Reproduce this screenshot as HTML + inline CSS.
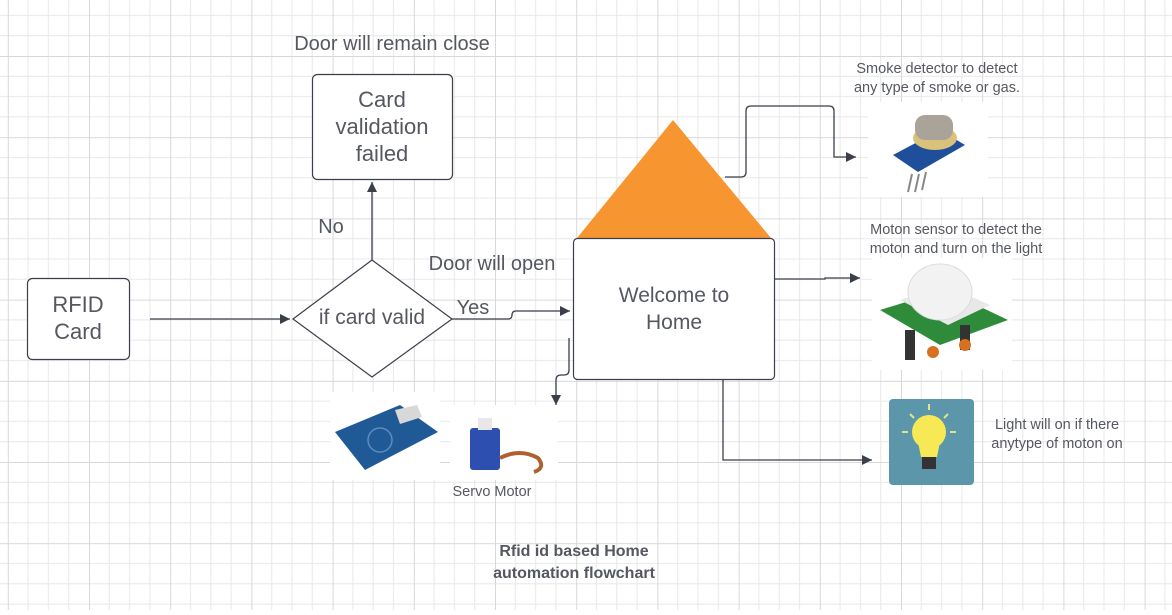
<!DOCTYPE html>
<html><head><meta charset="utf-8"><style>
html,body{margin:0;padding:0;background:#fff}
svg text{font-family:"Liberation Sans",sans-serif;fill:#555860}
</style></head><body>
<svg width="1172" height="610" viewBox="0 0 1172 610" xmlns="http://www.w3.org/2000/svg">
<defs>
<pattern id="g" x="7.8" y="-25.2" width="81.2" height="81.2" patternUnits="userSpaceOnUse">
<path d="M20.3 0V81.2M40.6 0V81.2M60.9 0V81.2M0 20.3H81.2M0 40.6H81.2M0 60.9H81.2" stroke="#e8e8e8" stroke-width="1" fill="none"/>
<path d="M0.5 0V81.2M0 0.5H81.2" stroke="#d8d8da" stroke-width="1" fill="none"/>
</pattern>
<marker id="ar2" viewBox="0 0 10 10" refX="10" refY="5" markerWidth="14" markerHeight="10" orient="auto" markerUnits="userSpaceOnUse"><path d="M0 0L10 5L0 10z" fill="#3a3f4a"/></marker>
</defs>
<rect width="1172" height="610" fill="#fff"/>
<rect width="1172" height="610" fill="url(#g)"/>

<g stroke="#3a3f4a" stroke-width="1.3" fill="none">
<path d="M150 319H290" marker-end="url(#ar2)"/>
<path d="M372 260V182" marker-end="url(#ar2)"/>
<path d="M452 319H508q4 0 4-4q0-4 4-4H570" marker-end="url(#ar2)"/>
<path d="M569 338V370q0 5-5 5h-3q-5 0-5 5V405" marker-end="url(#ar2)"/>
<path d="M725 177H741q5 0 5-5V111q0-5 5-5H829q5 0 5 5V157H856" marker-end="url(#ar2)"/>
<path d="M775 279H825V278H860" marker-end="url(#ar2)"/>
<path d="M723 379V460H872" marker-end="url(#ar2)"/>
</g>

<rect x="27.5" y="278.5" width="102" height="81" rx="5" fill="#fff" stroke="#3a3f4a" stroke-width="1.2"/>
<text x="78" y="312" font-size="22" text-anchor="middle">RFID</text>
<text x="78" y="339" font-size="22" text-anchor="middle">Card</text>

<rect x="312.5" y="74.5" width="140" height="105" rx="5" fill="#fff" stroke="#3a3f4a" stroke-width="1.2"/>
<text x="382" y="107" font-size="22" text-anchor="middle">Card</text>
<text x="382" y="134" font-size="22" text-anchor="middle">validation</text>
<text x="382" y="161" font-size="22" text-anchor="middle">failed</text>

<path d="M293 319L372 260L452 319L372 377Z" fill="#fff" stroke="#3a3f4a" stroke-width="1.2"/>
<text x="372" y="324" font-size="21" text-anchor="middle">if card valid</text>

<path d="M577 238L673 120L771 238Z" fill="#f79531"/>
<rect x="573.5" y="238.5" width="201" height="141" rx="4" fill="#fff" stroke="#3a3f4a" stroke-width="1.2"/>
<text x="674" y="302" font-size="21" text-anchor="middle">Welcome to</text>
<text x="674" y="329" font-size="21" text-anchor="middle">Home</text>

<text x="392" y="50" font-size="20" text-anchor="middle">Door will remain close</text>
<text x="331" y="233" font-size="20" text-anchor="middle">No</text>
<text x="492" y="270" font-size="20" text-anchor="middle">Door will open</text>
<text x="473" y="314" font-size="20" text-anchor="middle">Yes</text>
<text x="937" y="73" font-size="14.5" text-anchor="middle">Smoke detector to detect</text>
<text x="937" y="92" font-size="14.5" text-anchor="middle">any type of smoke or gas.</text>
<text x="956" y="234" font-size="14.5" text-anchor="middle">Moton sensor to detect the</text>
<text x="956" y="253" font-size="14.5" text-anchor="middle">moton and turn on the light</text>
<text x="1057" y="429" font-size="14.5" text-anchor="middle">Light will on if there</text>
<text x="1057" y="448" font-size="14.5" text-anchor="middle">anytype of moton on</text>
<text x="492" y="496" font-size="14.5" text-anchor="middle">Servo Motor</text>
<text x="574" y="556" font-size="16" font-weight="bold" text-anchor="middle">Rfid id based Home</text>
<text x="574" y="578" font-size="16" font-weight="bold" text-anchor="middle">automation flowchart</text>

<rect x="330" y="392" width="110" height="88" fill="#fff"/>
<path d="M335 432L400 405L438 432L365 470Z" fill="#1f5a97"/>
<path d="M395 410l22-5l5 12l-22 7z" fill="#d8d8d8"/>
<circle cx="380" cy="440" r="12" fill="none" stroke="#5a8cc0" stroke-width="1.5"/>
<rect x="450" y="405" width="108" height="75" fill="#fff"/>
<rect x="470" y="428" width="30" height="42" rx="3" fill="#2c4fb0"/>
<rect x="478" y="418" width="14" height="12" fill="#e8e8e8"/>
<path d="M500 458q20-10 38 0q8 10-4 14" stroke="#b06030" stroke-width="4" fill="none"/>

<rect x="868" y="102" width="120" height="95" fill="#fff"/>
<path d="M893 155L940 130L965 145L918 172Z" fill="#1f4f9a"/>
<path d="M908 192l4-18M915 192l4-18M922 190l4-18" stroke="#888" stroke-width="2"/>
<ellipse cx="935" cy="138" rx="22" ry="12" fill="#d9c27a"/>
<rect x="915" y="115" width="38" height="25" rx="10" fill="#a9a39a"/>

<rect x="872" y="258" width="140" height="112" fill="#fff"/>
<path d="M880 310L945 290L1008 320L940 345Z" fill="#2e8b3a"/>
<rect x="905" y="330" width="10" height="30" fill="#333"/>
<rect x="960" y="325" width="10" height="25" fill="#333"/>
<circle cx="933" cy="352" r="6" fill="#d77020"/><circle cx="965" cy="345" r="6" fill="#d77020"/>
<path d="M900 300L945 285L990 305L948 325Z" fill="#e8e8e8"/>
<ellipse cx="940" cy="292" rx="32" ry="28" fill="#f2f2f2" stroke="#ddd"/>

<rect x="889" y="399" width="85" height="86" rx="4" fill="#5b96aa"/>
<circle cx="929" cy="432" r="17" fill="#f6e955"/>
<path d="M918 442h22l-3 15h-16z" fill="#f6e955"/>
<rect x="922" y="457" width="14" height="12" fill="#333"/>
<g stroke="#e5e28a" stroke-width="2"><path d="M929 404v6M910 414l4 4M948 414l-4 4M902 432h6M950 432h6"/></g>
</svg>
</body></html>
